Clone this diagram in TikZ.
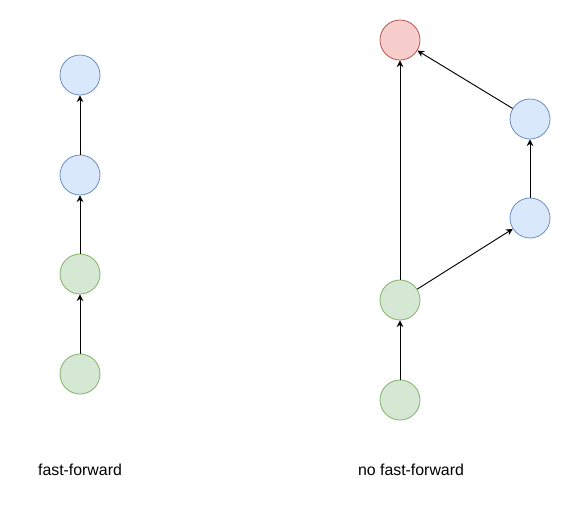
\documentclass[tikz,border=0pt]{standalone}
\usepackage{amsmath}
\usepackage{fontspec}
\setmainfont{Liberation Sans}
\usetikzlibrary{arrows.meta}

\definecolor{bluefill}{HTML}{DAE8FC}
\definecolor{bluedraw}{HTML}{6C8EBF}
\definecolor{greenfill}{HTML}{D5E8D4}
\definecolor{greendraw}{HTML}{82B366}
\definecolor{redfill}{HTML}{F8CECC}
\definecolor{reddraw}{HTML}{B85450}

\tikzset{
  commit/.style={circle, minimum size=30pt, inner sep=0pt, line width=0.6pt},
  bluecommit/.style={commit, fill=bluefill, draw=bluedraw},
  greencommit/.style={commit, fill=greenfill, draw=greendraw},
  redcommit/.style={commit, fill=redfill, draw=reddraw},
  parent/.style={-{Stealth[length=5pt,width=5pt]}, line width=0.7pt},
  caption/.style={font=\fontsize{11.9}{14}\selectfont}
}

\begin{document}
\begin{tikzpicture}[x=0.75pt,y=0.75pt,yscale=-1,xscale=1]
\useasboundingbox (0,0) rectangle (571,511);

%Shape: Circle [fast-forward]
\node [greencommit] (ffa) at (80,374) {};
\node [greencommit] (ffb) at (80,274) {};
\node [bluecommit] (ffc) at (80,175) {};
\node [bluecommit] (ffd) at (80,75) {};
%Straight Lines
\draw [parent] (ffa) -- (ffb) ;
\draw [parent] (ffb) -- (ffc) ;
\draw [parent] (ffc) -- (ffd) ;

%Shape: Circle [no fast-forward]
\node [greencommit] (nfa) at (400,400) {};
\node [greencommit] (nfb) at (400,300) {};
\node [bluecommit] (nfc) at (530,218) {};
\node [bluecommit] (nfd) at (530,119) {};
\node [redcommit] (nfm) at (400,40) {};
%Straight Lines
\draw [parent] (nfa) -- (nfb) ;
\draw [parent] (nfb) -- (nfm) ;
\draw [parent] (nfb) -- (nfc) ;
\draw [parent] (nfc) -- (nfd) ;
\draw [parent] (nfd) -- (nfm) ;

%Text
\node [caption] (fflabel) at (80,470) {fast-forward};
\node [caption] (nflabel) at (411,470) {no fast-forward};

\end{tikzpicture}
\end{document}
